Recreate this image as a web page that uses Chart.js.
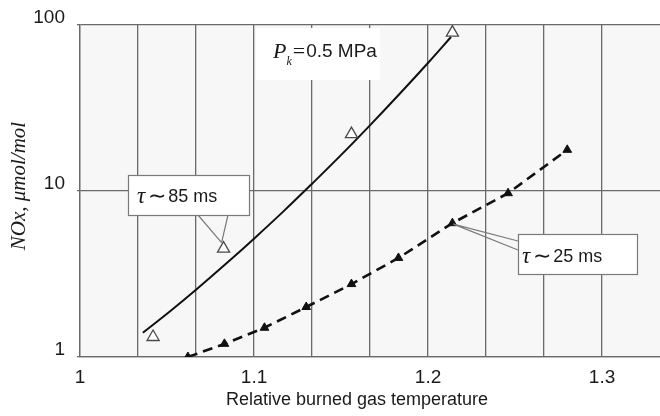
<!DOCTYPE html>
<html>
<head>
<meta charset="utf-8">
<script src="https://cdn.jsdelivr.net/npm/chart.js@4.4.1/dist/chart.umd.min.js"></script>
<style>
  html, body { margin: 0; padding: 0; background: #ffffff; }
  #wrap { width: 660px; height: 416px; position: relative; }
</style>
</head>
<body>
<div id="wrap"><canvas id="c" width="660" height="416"></canvas></div>
<script>
// ---- data ----
const xTicks = [1, 1.0333, 1.0667, 1.1, 1.1333, 1.1667, 1.2, 1.2333, 1.2667, 1.3, 1.3333];
const xTickLabels = ['1', '', '', '1.1', '', '', '1.2', '', '', '1.3', ''];
const yTicks = [1, 10, 100];
const xTitle = 'Relative burned gas temperature';
const yTitle = 'NOx, μmol/mol';

// tau ~ 85 ms : measured points (open triangles)
const tau85X = [1.042, 1.0825, 1.156, 1.214];
const tau85Y = [1.32, 4.5, 22, 90];

// tau ~ 85 ms : fitted curve (solid line)
const fitX = [1.0361, 1.0516, 1.0670, 1.0837, 1.1003, 1.1169, 1.1335, 1.1501, 1.1673, 1.1840, 1.2006, 1.2132];
const fitY = [1.40, 1.88, 2.56, 3.63, 5.20, 7.54, 11.1, 16.5, 25.3, 38.8, 60.1, 84.7];

// tau ~ 25 ms : measured points (filled triangles, dashed line)
const tau25X = [1.062, 1.083, 1.106, 1.130, 1.156, 1.183, 1.214, 1.246, 1.280];
const tau25Y = [1.0, 1.2, 1.5, 2.0, 2.75, 3.95, 6.4, 9.7, 17.7];

const SANS = '"Liberation Sans Narrow", "Arial Narrow", "Liberation Sans", Arial, sans-serif';
const SERIF = '"Liberation Serif", "Times New Roman", serif';

function pts(xs, ys) { return xs.map((x, i) => ({ x: x, y: ys[i] })); }

const decorPlugin = {
  id: 'decor',
  beforeDraw(chart) {
    const { ctx, chartArea: a } = chart;
    ctx.save();
    ctx.fillStyle = '#f7f7f7';
    ctx.fillRect(a.left, a.top, a.right - a.left, a.bottom - a.top);
    ctx.restore();
  },
  afterDraw(chart) {
    const { ctx } = chart;
    ctx.save();
    ctx.fillStyle = '#1a1a1a';
    ctx.textAlign = 'center';
    ctx.textBaseline = 'middle';
    ctx.font = '18px ' + SANS;
    ctx.fillText(xTitle, 357, 400);
    ctx.translate(19, 186);
    ctx.rotate(-Math.PI / 2);
    ctx.font = 'italic 21px ' + SERIF;
    ctx.fillText(yTitle, 0, 0);
    ctx.restore();
  },
  afterDatasetsDraw(chart) {
    const { ctx } = chart;
    const xs = chart.scales.x, ys = chart.scales.y;

    function richText(x, yMid, parts) {
      let cx = x;
      parts.forEach(p => {
        ctx.font = p.font;
        ctx.textBaseline = 'middle';
        ctx.fillStyle = '#1a1a1a';
        ctx.fillText(p.t, cx, yMid + (p.dy || 0));
        cx += ctx.measureText(p.t).width + (p.gap || 0);
      });
    }

    function callout(box, anchors, tip, parts, textX, textY) {
      ctx.save();
      ctx.strokeStyle = '#7a7a7a';
      ctx.lineWidth = 1.2;
      ctx.beginPath();
      anchors.forEach(p => { ctx.moveTo(p[0], p[1]); ctx.lineTo(tip[0], tip[1]); });
      ctx.stroke();
      ctx.fillStyle = '#ffffff';
      ctx.fillRect(box[0], box[1], box[2] - box[0], box[3] - box[1]);
      ctx.strokeRect(box[0] + 0.5, box[1] + 0.5, box[2] - box[0], box[3] - box[1]);
      richText(textX, textY, parts);
      ctx.restore();
    }

    // tau ~ 85 ms callout pointing to the 2nd open triangle
    const p85x = xs.getPixelForValue(tau85X[1]);
    const p85y = ys.getPixelForValue(tau85Y[1]);
    callout([128, 175, 249, 215], [[198, 215], [228, 215]], [p85x - 2, p85y - 6],
      [{ t: 'τ', font: 'italic 23px ' + SERIF, gap: 3 },
       { t: '∼', font: '22px ' + SERIF, gap: 2 },
       { t: '85 ms', font: '18px ' + SANS }], 137, 197);

    // tau ~ 25 ms callout pointing to the 7th filled triangle
    const p25x = xs.getPixelForValue(tau25X[6]);
    const p25y = ys.getPixelForValue(tau25Y[6]);
    callout([518, 234, 637, 274], [[518, 241], [518, 250]], [p25x + 1, p25y + 1],
      [{ t: 'τ', font: 'italic 23px ' + SERIF, gap: 3 },
       { t: '∼', font: '22px ' + SERIF, gap: 2 },
       { t: '25 ms', font: '18px ' + SANS }], 522, 257);

    // P_k = 0.5 MPa label with white background
    ctx.save();
    ctx.fillStyle = '#ffffff';
    ctx.fillRect(256, 28, 124, 52);
    richText(273, 52, [
      { t: 'P', font: 'italic 22px ' + SERIF, gap: 0 },
      { t: 'k', font: 'italic 12px ' + SERIF, dy: 10, gap: 1 },
      { t: '=', font: '22px ' + SERIF, gap: 1 },
      { t: '0.5 MPa', font: '19px ' + SANS }
    ]);
    ctx.restore();
  }
};

new Chart(document.getElementById('c'), {
  type: 'scatter',
  data: {
    datasets: [
      {
        label: 'fit 85',
        data: pts(fitX, fitY),
        showLine: true,
        borderColor: '#111111',
        borderWidth: 2,
        pointRadius: 0,
        tension: 0.4,
        order: 3
      },
      {
        label: 'tau 85',
        data: pts(tau85X, tau85Y),
        showLine: false,
        pointStyle: 'triangle',
        pointRadius: 7,
        backgroundColor: '#ffffff',
        borderColor: '#4a4a4a',
        borderWidth: 1.3,
        order: 1
      },
      {
        label: 'tau 25',
        data: pts(tau25X, tau25Y),
        showLine: true,
        borderColor: '#111111',
        borderWidth: 2.6,
        borderDash: [10, 6],
        pointStyle: 'triangle',
        pointRadius: 5,
        backgroundColor: '#111111',
        pointBorderColor: '#111111',
        pointBorderWidth: 1,
        order: 2
      }
    ]
  },
  options: {
    responsive: false,
    animation: false,
    devicePixelRatio: 1,
    layout: { autoPadding: false, padding: { top: 25, right: 0, left: 0, bottom: 0 } },
    plugins: { legend: { display: false }, tooltip: { enabled: false } },
    scales: {
      x: {
        type: 'linear',
        min: 1,
        max: 1.3333,
        afterBuildTicks(scale) { scale.ticks = xTicks.map(v => ({ value: v })); },
        afterFit(scale) { scale.height = 59; },
        ticks: {
          autoSkip: false,
          maxRotation: 0,
          padding: 0,
          color: '#1a1a1a',
          font: { family: SANS, size: 19 },
          callback: (v, i) => xTickLabels[i]
        },
        grid: {
          color: ctx => (ctx.index === xTicks.length - 1 ? 'rgba(0,0,0,0)' : '#6a6a6a'),
          lineWidth: 1.3,
          drawTicks: true,
          tickLength: 9,
          tickColor: 'rgba(0,0,0,0)'
        },
        border: { color: '#6a6a6a', width: 1.3 },
        title: { display: false }
      },
      y: {
        type: 'logarithmic',
        min: 1,
        max: 100,
        afterBuildTicks(scale) { scale.ticks = yTicks.map(v => ({ value: v })); },
        afterFit(scale) { scale.width = 80; },
        ticks: {
          padding: 12,
          labelOffset: -7,
          color: '#1a1a1a',
          font: { family: SANS, size: 19 },
          callback: v => String(v)
        },
        grid: { color: '#6a6a6a', lineWidth: 1.3, drawTicks: true, tickLength: 3 },
        border: { color: '#6a6a6a', width: 1.3 },
        title: { display: false }
      }
    }
  },
  plugins: [decorPlugin]
});
</script>
</body>
</html>
